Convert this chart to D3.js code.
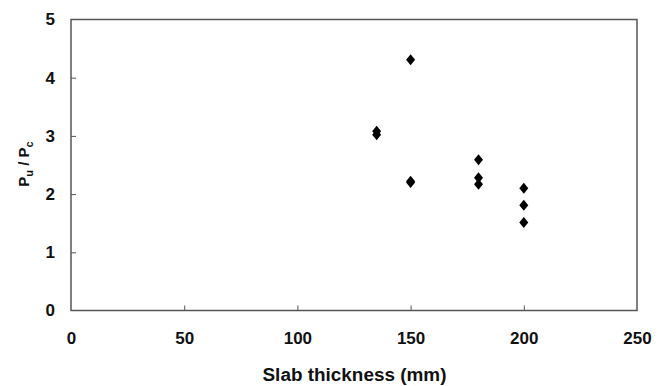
<!DOCTYPE html>
<html><head><meta charset="utf-8">
<script src="https://cdn.jsdelivr.net/npm/d3@7"></script>
<style>body{margin:0;background:#fff}svg{display:block}</style>
</head><body>
<svg id="c" width="662" height="386"></svg>
<script>
const thickness = [150, 135, 135, 150, 150, 180, 180, 180, 200, 200, 200];
const ratio     = [4.31, 3.08, 3.02, 2.22, 2.20, 2.59, 2.28, 2.17, 2.10, 1.81, 1.51];
const xTicks = [0, 50, 100, 150, 200, 250];
const yTicks = [0, 1, 2, 3, 4, 5];

const svg = d3.select("#c");
const L = 71, R = 637, T = 19.5, B = 310.5;
const x = d3.scaleLinear().domain([0, 250]).range([L, R]);
const y = d3.scaleLinear().domain([0, 5]).range([B, T]);
const font = "Arial, 'Liberation Sans', Helvetica, sans-serif";
const axisCol = "#555";

svg.append("rect").attr("x", L).attr("y", T).attr("width", R - L).attr("height", B - T)
  .attr("fill", "none").attr("stroke", axisCol).attr("stroke-width", 1.5);

const xa = svg.append("g").attr("transform", `translate(0,${B})`)
  .call(d3.axisBottom(x).tickValues(xTicks).tickSize(-5).tickPadding(21).tickFormat(d3.format("d")));
const ya = svg.append("g").attr("transform", `translate(${L},0)`)
  .call(d3.axisLeft(y).tickValues(yTicks).tickSize(-5).tickPadding(16).tickFormat(d3.format("d")));
[xa, ya].forEach(g => {
  g.select(".domain").remove();
  g.selectAll(".tick line").attr("stroke", axisCol).attr("stroke-width", 1);
  g.selectAll(".tick text").attr("fill", "#111").style("font-family", font)
    .style("font-size", "17px").style("font-weight", "bold");
});
xa.selectAll(".tick line").filter(d => d === 0 || d === 250).remove();
ya.selectAll(".tick line").filter(d => d === 0 || d === 5).remove();

const diamond = "M0,-5.5L4.5,0L0,5.5L-4.5,0Z";
svg.append("g").selectAll("path").data(thickness.map((t, i) => [t, ratio[i]]))
  .join("path").attr("d", diamond)
  .attr("transform", d => `translate(${x(d[0])},${y(d[1])})`)
  .attr("fill", "#000");

svg.append("text").attr("x", (L + R) / 2 + 0.5).attr("y", 381).attr("text-anchor", "middle")
  .attr("textLength", 184).attr("lengthAdjust", "spacingAndGlyphs")
  .style("font-family", font).style("font-size", "18px").style("font-weight", "bold").attr("fill", "#111")
  .text("Slab thickness (mm)");

const yl = svg.append("text").attr("transform", `translate(29,${(T + B) / 2 - 1}) rotate(-90)`)
  .attr("text-anchor", "middle")
  .style("font-family", font).style("font-size", "15px").style("font-weight", "bold").attr("fill", "#111");
yl.append("tspan").text("P");
yl.append("tspan").text("u").attr("dy", 4).style("font-size", "11px");
yl.append("tspan").text(" / P").attr("dy", -4);
yl.append("tspan").text("c").attr("dy", 4).style("font-size", "11px");
</script>
</body></html>
